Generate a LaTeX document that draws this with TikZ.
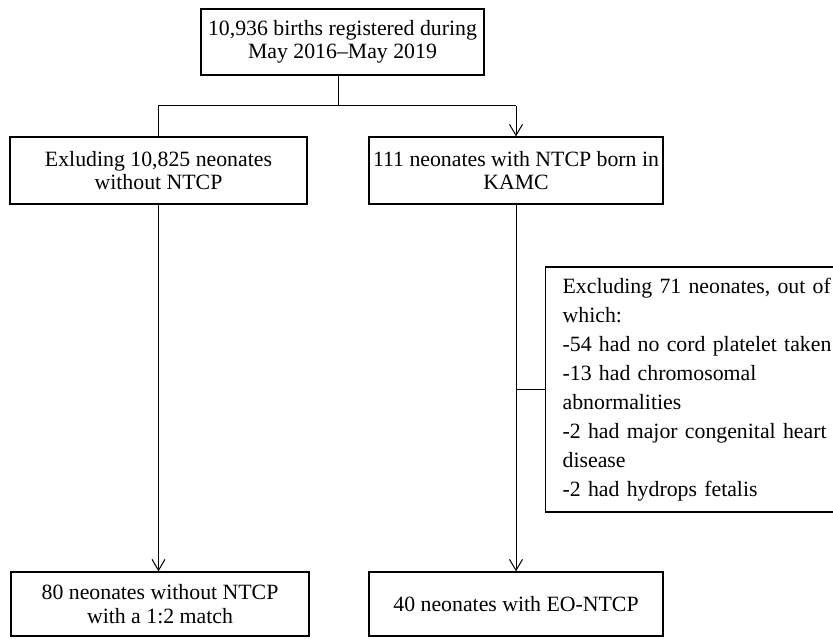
\documentclass[tikz,border=0pt]{standalone}
\usepackage{fontspec}
\setmainfont{Liberation Serif}
\usetikzlibrary{arrows.meta}
\begin{document}
\begin{tikzpicture}[x=1pt,y=1pt,
  box/.style={draw, line width=1.3pt, align=center, inner sep=0pt,
    font=\fontsize{21.8}{23.5}\selectfont},
  listbox/.style={draw, line width=1.3pt, align=left, inner xsep=17pt, inner ysep=0pt,
    text width=272pt, font=\fontsize{21.8}{29}\selectfont},
  conn/.style={line width=1pt},
  arr/.style={conn, -{Straight Barb[length=11pt,width=13pt,line width=1pt]}}]
\useasboundingbox (0,0) rectangle (833,638);
\node[box, minimum width=283, minimum height=66] (top) at (342.5,596)
  {10,936 births registered during\\May 2016–May 2019};
\node[box, minimum width=297, minimum height=67] (left) at (158.5,467.5)
  {Exluding 10,825 neonates\\without NTCP};
\node[box, minimum width=294, minimum height=67] (right) at (516,467.5)
  {111 neonates with NTCP born in\\KAMC};
\node[listbox, minimum height=245, anchor=west] (excl) at (545,248.5)
  {Excluding 71 neonates, out of\\which:\\-54 had no cord platelet taken\\-13 had chromosomal\\abnormalities\\-2 had major congenital heart\\disease\\-2 had hydrops fetalis};
\node[box, minimum width=298, minimum height=64] (bl) at (160,34)
  {80 neonates without NTCP\\with a 1:2 match};
\node[box, minimum width=294, minimum height=64] (br) at (516,34)
  {40 neonates with EO-NTCP};
\coordinate (j) at (338,532);
\draw[conn] (top.south -| j) -- (j);
\draw[conn] (left.north) |- (right.north |- j);
\draw[arr] (right.north |- j) -- (right.north);
\draw[arr] (left.south) -- (left.south |- bl.north);
\draw[arr] (right.south) -- (right.south |- br.north);
\draw[conn] (right.south |- excl.west) -- (excl.west);
\end{tikzpicture}
\end{document}
